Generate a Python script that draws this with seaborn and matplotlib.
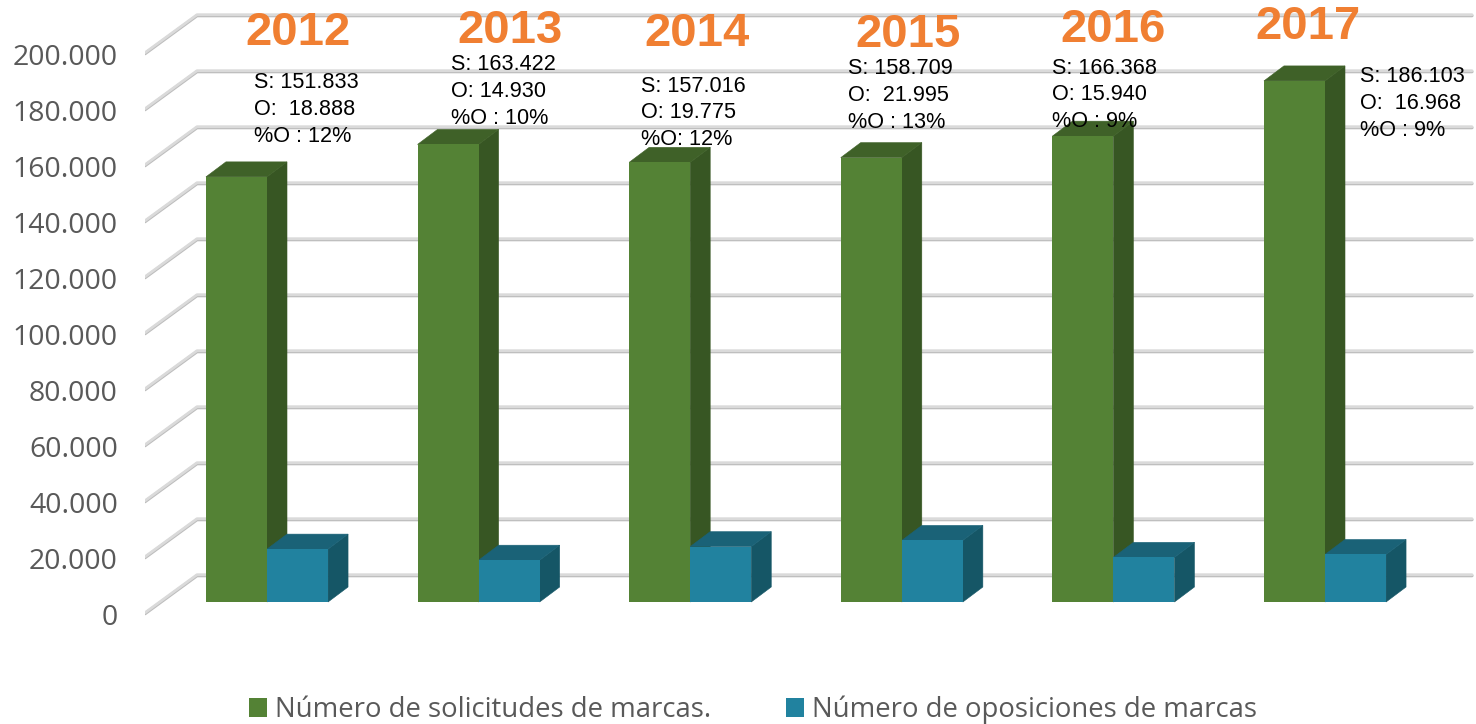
import pandas as pd
import matplotlib
matplotlib.use('Agg')
import matplotlib.pyplot as plt
import matplotlib.transforms as mtransforms
from matplotlib.patches import Polygon
import seaborn as sns

years = ['2012', '2013', '2014', '2015', '2016', '2017']
solicitudes = [151833, 163422, 157016, 158709, 166368, 186103]
oposiciones = [18888, 14930, 19775, 21995, 15940, 16968]
notas = [
    ['S: 151.833', 'O:  18.888', '%O : 12%'],
    ['S: 163.422', 'O: 14.930', '%O : 10%'],
    ['S: 157.016', 'O: 19.775', '%O: 12%'],
    ['S: 158.709', 'O:  21.995', '%O : 13%'],
    ['S: 166.368', 'O: 15.940', '%O : 9%'],
    ['S: 186.103', 'O:  16.968', '%O : 9%'],
]
serie_s = 'Número de solicitudes de marcas.'
serie_o = 'Número de oposiciones de marcas'
y_ticks = [0, 20000, 40000, 60000, 80000, 100000, 120000, 140000, 160000, 180000, 200000]

# posiciones en pixeles de la imagen
W, H = 1476, 724
X0 = 267                # centro del primer grupo
PX_X = 1 / 211.6        # unidades de categoria por pixel
PX_Y = 200000 / 560     # unidades de valor por pixel
year_pos = [(298, 33), (510, 31), (697, 34), (908, 35), (1113, 30), (1308, 27)]
nota_pos = [(254, 83), (451, 65), (641, 86), (848, 69), (1052, 68), (1360, 77)]

sns.set_theme(style='white')
plt.rcParams['font.family'] = ['Open Sans', 'DejaVu Sans']

df = pd.DataFrame({'year': years, serie_s: solicitudes, serie_o: oposiciones})
df = df.melt(id_vars='year', var_name='serie', value_name='valor')

fig = plt.figure(figsize=(W / 100, H / 100), dpi=100)
ax = fig.add_axes([145 / W, 0, (W - 145) / W, 1])

sns.barplot(data=df, x='year', y='valor', hue='serie', ax=ax, width=0.577, gap=0,
            palette=['#548235', '#21829F'], saturation=1, linewidth=0, zorder=4)

ax.set_xlim((145 - X0) * PX_X, (W - X0) * PX_X)
ax.set_ylim((602 - H) * PX_Y, 602 * PX_Y)
ax.set_xlabel('')
ax.set_ylabel('')
ax.set_xticks([])
ax.set_yticks(y_ticks)
ax.set_yticklabels([f'{v:,}'.replace(',', '.') for v in y_ticks])
ax.tick_params(axis='y', length=0, pad=19.5, labelsize=20.5, labelcolor='#595959')
sns.despine(ax=ax, left=True, bottom=True)

# etiquetas del eje bajadas, como en el grafico 3D
offset = mtransforms.ScaledTranslation(0, -12.5 / 100, fig.dpi_scale_trans)
for lab in ax.get_yticklabels():
    lab.set_transform(lab.get_transform() + offset)

# pared del fondo y pared izquierda
for v in y_ticks:
    yb = v + 27 * PX_Y
    yf = v - 11 * PX_Y
    xb = (197 - X0) * PX_X
    xf = (145 - X0) * PX_X
    xe = (1472 - X0) * PX_X
    for col, lw, shift in [('#BDBDBD', 2.3, -0.7), ('#DADADA', 2.0, 0.3)]:
        ax.plot([xf, xb, xe], [yf + shift * PX_Y, yb + shift * PX_Y, yb + shift * PX_Y],
                color=col, lw=lw, zorder=1, solid_capstyle='round', solid_joinstyle='round')

# caras superior y lateral de cada barra
dx, dy = 20 * PX_X, 15 * PX_Y
colores = [('#3F6128', '#375623'), ('#1A6277', '#155666')]
for cont, (c_top, c_side) in zip(ax.containers, colores):
    for bar in cont:
        x0, x1 = bar.get_x(), bar.get_x() + bar.get_width()
        h = bar.get_height()
        ax.add_patch(Polygon([(x1, 0), (x1 + dx, dy), (x1 + dx, h + dy), (x1, h)],
                             facecolor=c_side, edgecolor=c_side, lw=0.4, zorder=3))
        ax.add_patch(Polygon([(x0, h), (x0 + dx, h + dy), (x1 + dx, h + dy), (x1, h)],
                             facecolor=c_top, edgecolor=c_top, lw=0.4, zorder=3))

sns.move_legend(ax, 'center', bbox_to_anchor=(753 / W, 1 - 710 / H),
                bbox_transform=fig.transFigure, ncol=2, frameon=False, title=None,
                fontsize=19.8, labelcolor='#595959', handlelength=0.65, handleheight=0.65,
                handletextpad=0.3, columnspacing=2.7, borderpad=0, borderaxespad=0)

for year, (px, py) in zip(years, year_pos):
    fig.text(px / W, 1 - py / H, year, ha='center', va='center', fontsize=34,
             fontweight='bold', color='#F07F32', family='Liberation Sans', zorder=6)
for nota, (px, py) in zip(notas, nota_pos):
    for i, linea in enumerate(nota):
        fig.text(px / W, 1 - (py + i * 26.7) / H, linea, ha='left', va='center', fontsize=15.6,
                 color='black', family='Liberation Sans', zorder=6)

plt.savefig('out.png', dpi=100)
